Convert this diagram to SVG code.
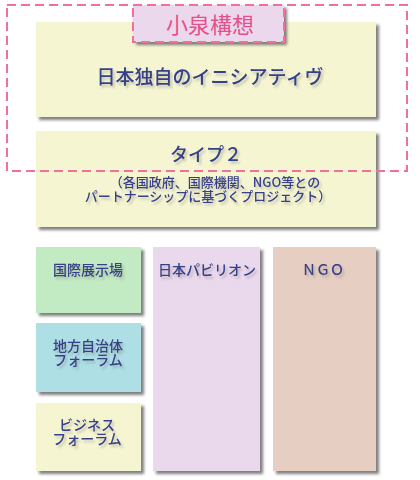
<svg xmlns="http://www.w3.org/2000/svg" width="420" height="480" viewBox="0 0 420 480">
<defs>
<filter id="bs" x="-10%" y="-10%" width="130%" height="130%">
<feDropShadow dx="3" dy="3" stdDeviation="1.5" flood-color="#555" flood-opacity="0.75"/>
</filter>
<filter id="ts" x="-10%" y="-30%" width="130%" height="170%">
<feDropShadow dx="2" dy="2.5" stdDeviation="1.3" flood-color="#666" flood-opacity="0.35"/>
</filter>
</defs>
<style>
.t{font-family:"Noto Sans CJK JP","Liberation Sans",sans-serif;font-weight:500;fill:#363f88;text-anchor:middle;filter:url(#ts)}
.dash{fill:none;stroke:#f0709c;stroke-width:2;stroke-dasharray:9 5}
</style>
<rect width="420" height="480" fill="#fff"/>
<g id="initiative">
<rect x="36" y="22" width="340" height="95" fill="#f5f5d2" filter="url(#bs)"/>
<text class="t" x="210" y="84" font-size="19">日本独自のイニシアティヴ</text>
</g>
<g id="type2">
<rect x="36" y="131" width="340" height="96" fill="#f5f5d2" filter="url(#bs)"/>
<text class="t" x="206" y="161" font-size="18">タイプ２</text>
<text class="t" x="215" y="187" font-size="13">（各国政府、国際機関、NGO等との</text>
<text class="t" x="208" y="201" font-size="13">パートナーシップに基づくプロジェクト）</text>
</g>
<g id="expo">
<rect x="36" y="247" width="105" height="66" fill="#c3ebc3" filter="url(#bs)"/>
<text class="t" x="88" y="275" font-size="14">国際展示場</text>
</g>
<g id="local">
<rect x="36" y="323" width="105" height="69" fill="#aedfe4" filter="url(#bs)"/>
<text class="t" x="88" y="351" font-size="14">地方自治体</text>
<text class="t" x="88" y="365" font-size="14">フォーラム</text>
</g>
<g id="business">
<rect x="36" y="403" width="105" height="68" fill="#f5f5d2" filter="url(#bs)"/>
<text class="t" x="87" y="430" font-size="14">ビジネス</text>
<text class="t" x="87" y="444" font-size="14">フォーラム</text>
</g>
<g id="pavilion">
<rect x="153" y="247" width="107" height="224" fill="#ead8ec" filter="url(#bs)"/>
<text class="t" x="207" y="275" font-size="14">日本パビリオン</text>
</g>
<g id="ngo">
<rect x="273" y="247" width="103" height="224" fill="#e7cec2" filter="url(#bs)"/>
<text class="t" x="323" y="275" font-size="14">ＮＧＯ</text>
</g>
<g id="koizumi">
<rect x="7" y="5" width="400" height="166" class="dash"/>
<rect x="133" y="5" width="151" height="37" fill="#ecd8ec" filter="url(#bs)"/>
<rect x="133" y="5" width="151" height="37" class="dash"/>
<text x="210" y="33" font-size="22" text-anchor="middle" font-family="Noto Sans CJK JP,Liberation Sans,sans-serif" fill="#e5508a">小泉構想</text>
</g>
</svg>
